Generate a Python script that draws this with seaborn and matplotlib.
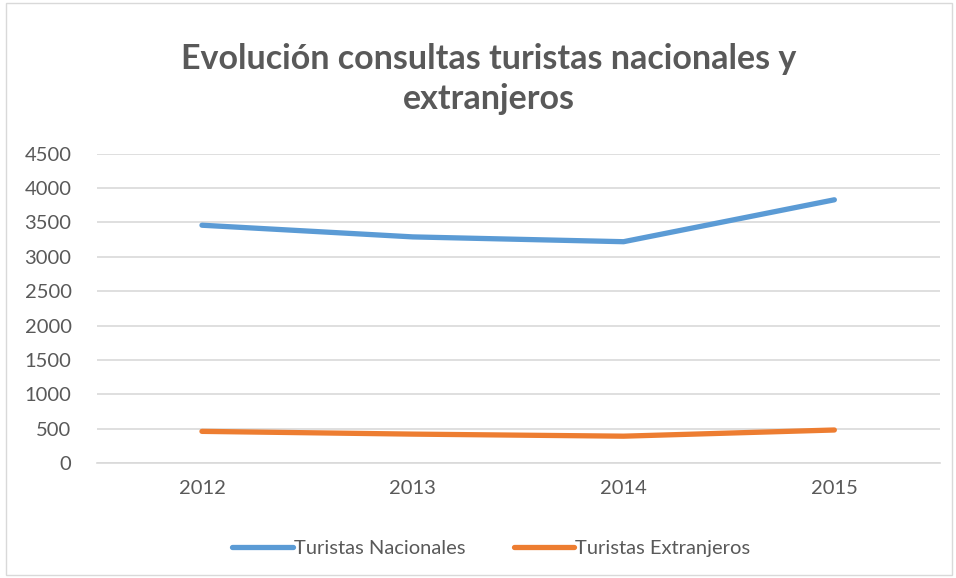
import pandas as pd
import matplotlib.pyplot as plt
import seaborn as sns

# Datos
years = ['2012', '2013', '2014', '2015']
nacionales = [3460, 3290, 3220, 3830]
extranjeros = [460, 420, 390, 480]
series_names = ['Turistas Nacionales', 'Turistas Extranjeros']
y_ticks = list(range(0, 4501, 500))

df = pd.DataFrame({
    'year': years * 2,
    'valor': nacionales + extranjeros,
    'serie': [series_names[0]] * 4 + [series_names[1]] * 4,
})

sns.set_style('white')
plt.rcParams['font.family'] = ['Lato', 'DejaVu Sans']
text_col = '#595959'

fig = plt.figure(figsize=(9.56, 5.78), dpi=100)
ax = fig.add_axes([0.101, 0.199, 0.882, 0.535])

sns.lineplot(data=df, x='year', y='valor', hue='serie', sort=False,
             palette=['#5B9BD5', '#ED7D31'], linewidth=3.8, ax=ax,
             solid_capstyle='round', legend=True)

ax.set_xlim(-0.5, 3.5)
ax.set_ylim(0, 4500)
ax.set_yticks(y_ticks)
ax.yaxis.grid(True, color='#D9D9D9', linewidth=1.2)
ax.set_axisbelow(True)
for s in ['top', 'right', 'left']:
    ax.spines[s].set_visible(False)
ax.spines['bottom'].set_color('#D9D9D9')
ax.spines['bottom'].set_linewidth(1.2)
ax.tick_params(axis='both', length=0, labelsize=14.5, colors=text_col)
ax.tick_params(axis='x', pad=12)
ax.tick_params(axis='y', pad=18)
ax.set_xlabel('')
ax.set_ylabel('')

leg = ax.legend(loc='upper center', bbox_to_anchor=(0.468, -0.19), ncol=2,
                frameon=False, fontsize=14.5, handlelength=3.0,
                handletextpad=0.05, columnspacing=2.4)
for t in leg.get_texts():
    t.set_color(text_col)
for h in leg.get_lines():
    h.set_linewidth(3.8)
    h.set_solid_capstyle('round')

fig.text(0.511, 0.864, 'Evolución consultas turistas nacionales y\nextranjeros',
         ha='center', va='center', fontsize=24.5, fontweight='bold',
         color=text_col, linespacing=1.3)

# borde del área del gráfico
fig.patches.append(plt.Rectangle((0.006, 0.005), 0.99, 0.99, transform=fig.transFigure,
                                 fill=False, edgecolor='#D9D9D9', linewidth=1))

plt.savefig('out.png', dpi=100)
plt.close()
